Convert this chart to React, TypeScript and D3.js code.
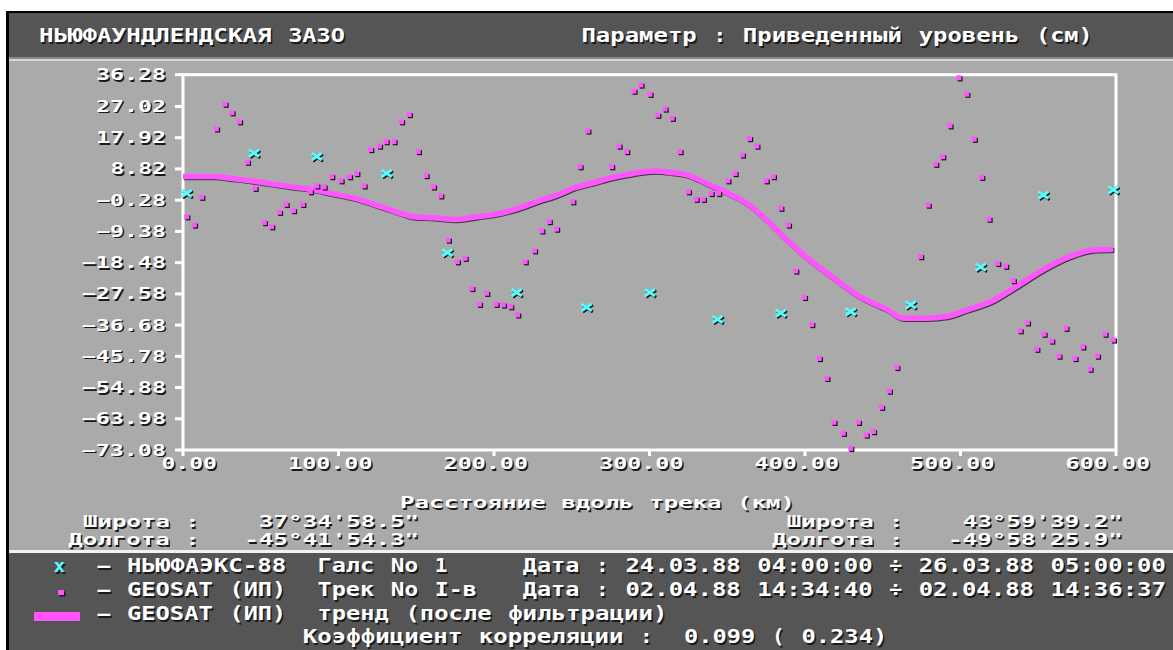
import * as d3 from 'd3';

// --- data ---
const xTicks = [0, 100, 200, 300, 400, 500, 600];
const yTicks = [36.28, 27.02, 17.92, 8.82, -0.28, -9.38, -18.48, -27.58, -36.68, -45.78, -54.88, -63.98, -73.08];

// НЬЮФАЭКС-88, галс No 1 (cyan crosses)
const shipDist = [2.4, 45.7, 86, 131, 170, 214.6, 259.6, 300.3, 343.8, 384.4, 429.4, 468, 513, 553.3, 598.3];
const shipLevel = [1.7, 13.4, 12.4, 7.5, -15.6, -27.2, -31.5, -27.2, -35, -33.2, -32.8, -30.8, -19.8, 1.2, 2.7];

// GEOSAT (ИП), трек No I-в (magenta dots)
const geoDist = [
  2.4, 7.3, 12, 21.5, 27, 31.5, 36.3, 41.4, 46.3, 52.3, 57, 62, 66.3, 71, 77, 81.9, 86, 90.7, 95.6, 101.6,
  107, 111.7, 116.4, 120.7, 126.3, 130.6, 135.7, 140.5, 145.5, 151.3, 156.3, 161, 165.7, 170.6, 176.4, 181.4,
  185.7, 190.6, 195.3, 201.3, 206, 210.7, 215.2, 220, 226, 230.7, 235.5, 240.2, 250.6, 255.3, 260.3, 275.6,
  280.4, 285.3, 290, 294.5, 300.3, 305.3, 310, 314.6, 319.6, 325, 330, 334.6, 339.6, 344.4, 350.4, 355,
  359.7, 364.3, 369, 375, 379.6, 384.4, 389.3, 394, 399.6, 404.3, 409.2, 414, 418.6, 424.6, 429.4, 434.3,
  439.3, 444, 449.2, 454.2, 459, 474.3, 479.2, 484, 488.5, 493.2, 499, 504, 508.8, 513.6, 518.3, 523.9,
  529, 533.9, 538.3, 543, 549, 553.7, 558.6, 563.3, 567.8, 573.6, 578.6, 583.3, 588, 592.9, 598.3,
];
const geoLevel = [
  -5.1, -7.5, 0.6, 20.5, 27.7, 25.2, 22.6, 10.8, 3.2, -6.8, -8, -3.8, -1.5, -3.3, -1.5, 2.2, 3.9, 3.6, 6.6, 5.4,
  6.6, 7.5, 3.9, 14.5, 15.5, 16.8, 16.8, 22.6, 24.7, 13.9, 6.9, 3.6, 1.0, -11.9, -18.2, -17.2,
  -26, -30.6, -27.4, -30.6, -30.8, -31.3, -33.7, -18.2, -15, -9.2, -6.5, -8.7, -0.7, 9.5, 19.9, 9.5,
  15.5, 13.9, 31.5, 33.3, 30.6, 24.5, 26.3, 23.6, 13.9, 2.2, 0, 0, 1.7, 1.7, 5.4, 7.5,
  12.9, 17.7, 15.5, 5.4, 6.6, -2.6, -7.5, -20.9, -28.6, -36.5, -46.4, -52.2, -65, -68.2, -72.6, -65,
  -68.7, -67.7, -60.6, -55.9, -49, -16.7, -1.7, 10.2, 12.4, 21.4, 35.4, 30.6, 17.5, 6.4, -5.8, -18.7,
  -19.5, -23.7, -38.3, -36, -43.7, -39.3, -41.3, -45.7, -37.6, -46.4, -43, -49.5, -45.7, -39.3, -41,
];

// GEOSAT тренд (после фильтрации)
const trendDist = [
  0, 20, 30, 45, 55, 70, 85, 95, 110, 130, 140, 148, 161, 176, 189, 201.7, 214.6, 227.5, 240.3, 251, 264,
  276.8, 289.6, 302.6, 313.3, 324, 336.8, 349.7, 362.5, 375.4, 386, 403, 420, 435.3, 452.5, 463, 478, 491,
  504, 521, 534, 553.3, 570.4, 585.4, 598.3,
];
const trendLevel = [
  6.6, 6.6, 6.1, 5.3, 4.6, 3.6, 2.7, 1.7, 0.3, -2.6, -4.1, -5.1, -5.4, -5.9, -5.1, -4.3, -2.8, -0.7, 1.2, 3.2, 4.8,
  6.4, 7.5, 8.2, 7.8, 7.1, 4.6, 1.9, -1.2, -6.1, -10.9, -17.7, -23.5, -28.4, -32.1, -34.7, -34.7, -34.2,
  -32.3, -29.5, -26, -20.5, -16.7, -14.8, -14.6,
];

const W = 1173;
const H = 650;
const CELL = W / 80; // the screen is an 80-column text grid
const col = (c: number) => 9.6 + c * CELL;

const GRAY = '#aaaaaa';
const DARK = '#555555';
const MAGENTA = '#ff55ff';
const CYAN = '#55ffff';
const SHADOW = '#1a1a1a';
const FONT = '"DejaVu Sans Mono", monospace';

// monospace text laid out token by token on a fixed cell width, with a drop shadow
function GridText({ x, y, text, size, cell = CELL, fill = '#fff', shrink = 1 }: {
  x: number; y: number; text: string; size: number; cell?: number; fill?: string; shrink?: number;
}) {
  const parts: { t: string; i: number }[] = [];
  const re = /\S+/g;
  let m: RegExpExecArray | null;
  while ((m = re.exec(text)) !== null) parts.push({ t: m[0], i: m.index });
  return (
    <g fontFamily={FONT} fontWeight="bold" fontSize={size}>
      {parts.map((p, k) => {
        const px = x + p.i * cell;
        const len = p.t.length * cell - shrink;
        return (
          <g key={k}>
            <text x={px + 1.5} y={y + 1.5} fill={SHADOW} textLength={len} lengthAdjust="spacingAndGlyphs">{p.t}</text>
            <text x={px} y={y} fill={fill} textLength={len} lengthAdjust="spacingAndGlyphs">{p.t}</text>
          </g>
        );
      })}
    </g>
  );
}

const fmt = (v: number) => v.toFixed(2).replace('-', '\u2212');

export default function App() {
  const x = d3.scaleLinear().domain([0, 600]).range([183, 1116]);
  const y = d3.scaleLinear().domain([-73.08, 36.28]).range([450, 74.7]);

  const trend = d3.line<number>()
    .x((_, i) => x(trendDist[i]))
    .y((d) => y(d))
    .curve(d3.curveMonotoneX)(trendLevel) || '';

  const TICK_CELL = 14.4;

  return (
    <svg width={W} height={H} style={{ position: 'absolute', left: 0, top: 0, display: 'block' }}>
      <rect x={0} y={0} width={W} height={H} fill="#fff" />
      {/* screen frame */}
      <rect x={6} y={11} width={W - 6} height={H - 11} fill="#000" />
      <rect x={9} y={13} width={W - 9} height={44} fill={DARK} />
      <rect x={9} y={57} width={W - 9} height={2} fill="#8a8a8a" />
      <rect x={9} y={59} width={W - 9} height={2} fill="#d6d6d6" />
      <rect x={9} y={61} width={W - 9} height={489} fill={GRAY} />
      <rect x={9} y={550} width={W - 9} height={3} fill="#f2f2f2" />
      <rect x={9} y={553} width={W - 9} height={H - 553} fill={DARK} />

      {/* header */}
      <GridText x={col(2)} y={42} text="НЬЮФАУНДЛЕНДСКАЯ ЗАЗО" size={20} shrink={2} />
      <GridText x={col(39)} y={42} text="Параметр : Приведенный уровень (см)" size={20} shrink={2} />

      {/* plot frame */}
      <rect x={x(0)} y={y(36.28)} width={x(600) - x(0)} height={y(-73.08) - y(36.28)} fill="none" stroke="#fff" strokeWidth={3} />

      {/* y axis */}
      {yTicks.map((t) => {
        const label = fmt(t);
        return (
          <g key={t}>
            <rect x={175} y={y(t) - 1.5} width={8} height={3} fill="#fff" />
            <GridText x={168 - label.length * TICK_CELL} y={y(t) + 5.5} text={label} size={15} cell={TICK_CELL} shrink={2} />
          </g>
        );
      })}

      {/* x axis */}
      {xTicks.map((t) => {
        const label = t.toFixed(2);
        const dot = label.indexOf('.');
        return (
          <g key={t}>
            <rect x={x(t) - 1.5} y={450} width={3} height={6} fill="#fff" />
            <GridText x={x(t) - (dot + 0.5) * TICK_CELL} y={469} text={label} size={15} cell={TICK_CELL} shrink={2} />
          </g>
        );
      })}

      {/* trend */}
      <path d={trend} fill="none" stroke="#3a3a3a" strokeWidth={5} transform="translate(1,1.2)" />
      <path d={trend} fill="none" stroke={MAGENTA} strokeWidth={5.5} />

      {/* altimeter points */}
      {geoDist.map((d, i) => (
        <g key={'g' + i}>
          <rect x={x(d) - 2.5 + 1.2} y={y(geoLevel[i]) - 2.5 + 1.2} width={5} height={5} fill={SHADOW} />
          <rect x={x(d) - 2.5} y={y(geoLevel[i]) - 2.5} width={5} height={5} fill={MAGENTA} />
        </g>
      ))}

      {/* ship measurements */}
      {shipDist.map((d, i) => {
        const cx = x(d);
        const cy = y(shipLevel[i]);
        const p = `M${cx - 5},${cy - 3.5}L${cx + 5},${cy + 3.5}M${cx - 5},${cy + 3.5}L${cx + 5},${cy - 3.5}`;
        return (
          <g key={'s' + i}>
            <path d={p} stroke={SHADOW} strokeWidth={2.8} transform="translate(1.2,1.2)" />
            <path d={p} stroke={CYAN} strokeWidth={2.8} />
          </g>
        );
      })}

      {/* axis title and coordinates */}
      <GridText x={400} y={508} text="Расстояние вдоль трека (км)" size={15} shrink={1} />
      <GridText x={col(5)} y={527} text="Широта :" size={15} shrink={1} />
      <GridText x={col(17)} y={527} text={'37°34\'58.5"'} size={15} shrink={1} />
      <GridText x={col(4)} y={545} text="Долгота :" size={15} shrink={1} />
      <GridText x={col(16)} y={545} text={'-45°41\'54.3"'} size={15} shrink={1} />
      <GridText x={col(53)} y={527} text="Широта :" size={15} shrink={1} />
      <GridText x={col(65)} y={527} text={'43°59\'39.2"'} size={15} shrink={1} />
      <GridText x={col(52)} y={545} text="Долгота :" size={15} shrink={1} />
      <GridText x={col(64)} y={545} text={'-49°58\'25.9"'} size={15} shrink={1} />

      {/* legend */}
      <GridText x={col(3)} y={572} text="x" size={18} fill={CYAN} shrink={3} />
      <rect x={59.5} y={591.5} width={6} height={5} fill={SHADOW} />
      <rect x={58} y={590} width={6} height={5} fill={MAGENTA} />
      <rect x={34} y={612} width={46} height={9} fill={MAGENTA} />

      <GridText x={col(6)} y={572} text="–" size={20} shrink={2} />
      <GridText x={col(8)} y={572} text="НЬЮФАЭКС-88" size={20} shrink={2} />
      <GridText x={col(21)} y={572} text="Галс No 1" size={20} shrink={2} />
      <GridText x={col(35)} y={572} text="Дата : 24.03.88 04:00:00 ÷ 26.03.88 05:00:00" size={20} shrink={2} />

      <GridText x={col(6)} y={596} text="–" size={20} shrink={2} />
      <GridText x={col(8)} y={596} text="GEOSAT (ИП)" size={20} shrink={2} />
      <GridText x={col(21)} y={596} text="Трек No I-в" size={20} shrink={2} />
      <GridText x={col(35)} y={596} text="Дата : 02.04.88 14:34:40 ÷ 02.04.88 14:36:37" size={20} shrink={2} />

      <GridText x={col(6)} y={620} text="–" size={20} shrink={2} />
      <GridText x={col(8)} y={620} text="GEOSAT (ИП)" size={20} shrink={2} />
      <GridText x={col(21)} y={620} text="тренд (после фильтрации)" size={20} shrink={2} />

      <GridText x={col(20)} y={643} text="Коэффициент корреляции :  0.099 ( 0.234)" size={19} shrink={2} />
    </svg>
  );
}
